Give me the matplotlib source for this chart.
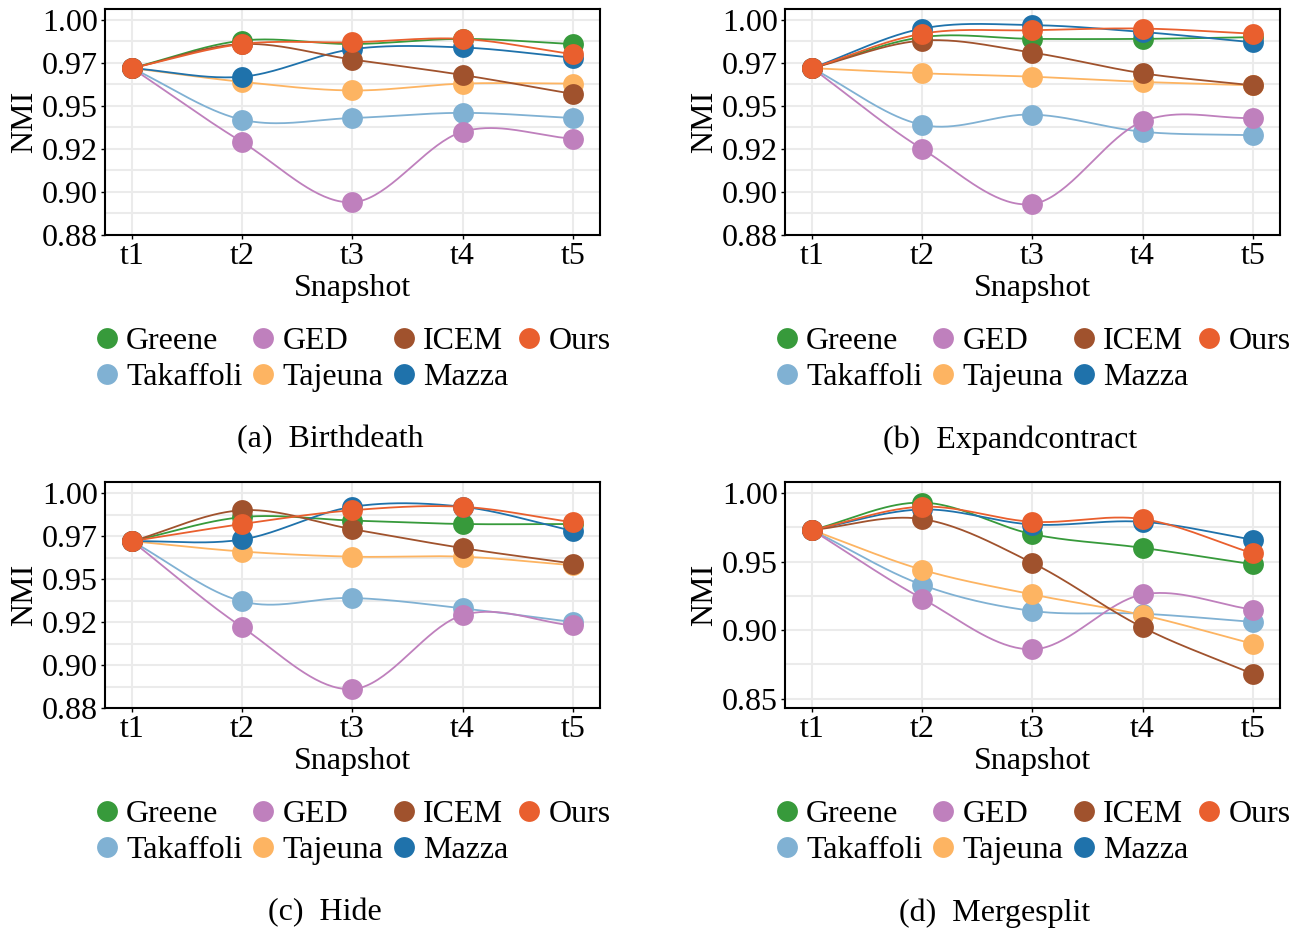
import numpy as np
import matplotlib
matplotlib.use("Agg")
import matplotlib.pyplot as plt

plt.rcParams['font.family'] = ['Liberation Serif', 'DejaVu Serif']
plt.rcParams['font.size'] = 23

snapshots = ["t1", "t2", "t3", "t4", "t5"]
methods = ["Greene", "Takaffoli", "GED", "Tajeuna", "Mazza", "ICEM", "Ours"]
colors = {
    "Greene": "#379a3b",
    "GED": "#bf80bd",
    "ICEM": "#a0522d",
    "Ours": "#e95f2e",
    "Takaffoli": "#80b1d3",
    "Tajeuna": "#fdb462",
    "Mazza": "#1f72ab",
}
legend_order = ["Greene", "Takaffoli", "GED", "Tajeuna", "ICEM", "Mazza", "Ours"]

# NMI values per dataset
birthdeath = {
    "Greene":    [0.972, 0.988, 0.986, 0.989, 0.986],
    "GED":       [0.972, 0.929, 0.894, 0.935, 0.931],
    "ICEM":      [0.972, 0.986, 0.977, 0.968, 0.957],
    "Ours":      [0.972, 0.986, 0.987, 0.989, 0.980],
    "Takaffoli": [0.972, 0.942, 0.943, 0.946, 0.943],
    "Tajeuna":   [0.972, 0.964, 0.959, 0.963, 0.963],
    "Mazza":     [0.972, 0.967, 0.983, 0.984, 0.978],
}
expandcontract = {
    "Greene":    [0.972, 0.990, 0.989, 0.989, 0.990],
    "GED":       [0.972, 0.925, 0.893, 0.941, 0.943],
    "ICEM":      [0.972, 0.988, 0.981, 0.969, 0.962],
    "Ours":      [0.972, 0.992, 0.994, 0.995, 0.992],
    "Takaffoli": [0.972, 0.939, 0.945, 0.935, 0.933],
    "Tajeuna":   [0.972, 0.969, 0.967, 0.964, 0.962],
    "Mazza":     [0.972, 0.995, 0.997, 0.993, 0.987],
}
hide = {
    "Greene":    [0.972, 0.986, 0.984, 0.982, 0.982],
    "GED":       [0.972, 0.922, 0.886, 0.929, 0.923],
    "ICEM":      [0.972, 0.990, 0.979, 0.968, 0.959],
    "Ours":      [0.972, 0.982, 0.990, 0.992, 0.983],
    "Takaffoli": [0.972, 0.937, 0.939, 0.933, 0.925],
    "Tajeuna":   [0.972, 0.966, 0.963, 0.963, 0.958],
    "Mazza":     [0.972, 0.973, 0.992, 0.992, 0.978],
}
mergesplit = {
    "Greene":    [0.973, 0.993, 0.970, 0.960, 0.948],
    "GED":       [0.973, 0.923, 0.886, 0.926, 0.915],
    "ICEM":      [0.973, 0.981, 0.949, 0.902, 0.868],
    "Ours":      [0.973, 0.990, 0.979, 0.981, 0.956],
    "Takaffoli": [0.973, 0.933, 0.914, 0.912, 0.906],
    "Tajeuna":   [0.973, 0.944, 0.926, 0.911, 0.890],
    "Mazza":     [0.973, 0.988, 0.977, 0.979, 0.966],
}

ticks_small = [0.875, 0.9, 0.925, 0.95, 0.975, 1.0]
ticklabels_small = ["0.88", "0.90", "0.92", "0.95", "0.97", "1.00"]
ticks_large = [0.85, 0.9, 0.95, 1.0]
ticklabels_large = ["0.85", "0.90", "0.95", "1.00"]

panels = [
    (birthdeath, "(a)  Birthdeath", ticks_small, ticklabels_small, (0.875, 1.0064)),
    (expandcontract, "(b)  Expandcontract", ticks_small, ticklabels_small, (0.875, 1.0064)),
    (hide, "(c)  Hide", ticks_small, ticklabels_small, (0.875, 1.0064)),
    (mergesplit, "(d)  Mergesplit", ticks_large, ticklabels_large, (0.8432, 1.008)),
]


def smooth(y, n=40):
    # Catmull-Rom style cubic Hermite curve through equally spaced points
    y = np.asarray(y, dtype=float)
    k = len(y)
    m = np.gradient(y)
    xs, ys = [], []
    for i in range(k - 1):
        t = np.linspace(0, 1, n)
        h00 = 2 * t**3 - 3 * t**2 + 1
        h10 = t**3 - 2 * t**2 + t
        h01 = -2 * t**3 + 3 * t**2
        h11 = t**3 - t**2
        xs.append(i + 1 + t)
        ys.append(h00 * y[i] + h10 * m[i] + h01 * y[i + 1] + h11 * m[i + 1])
    return np.concatenate(xs), np.concatenate(ys)


fig = plt.figure(figsize=(12.99, 9.32), dpi=100)
positions = [
    [0.0808, 0.7479, 0.381, 0.2425],
    [0.6043, 0.7479, 0.381, 0.2425],
    [0.0808, 0.2403, 0.381, 0.2425],
    [0.6043, 0.2403, 0.381, 0.2425],
]
caption_xy = [(330, 440), (1010, 440), (325, 913), (995, 913)]
x = np.arange(1, len(snapshots) + 1)

for (data, caption, ticks, ticklabels, ylim), pos, cxy in zip(panels, positions, caption_xy):
    ax = fig.add_axes(pos)
    handles = {}
    for m in methods:
        xs, ys = smooth(data[m])
        ax.plot(xs, ys, color=colors[m], lw=1.3, zorder=3)
        h, = ax.plot(x, data[m], 'o', color=colors[m], ms=15, mec='none', zorder=4, label=m)
        handles[m] = h
    ax.set_xlim(0.755, 5.245)
    ax.set_ylim(*ylim)
    ax.set_xticks(x)
    ax.set_xticklabels(snapshots)
    ax.set_yticks(ticks)
    ax.set_yticklabels(ticklabels)
    step = ticks[1] - ticks[0]
    ax.set_yticks([t + step / 2 for t in ticks[:-1]], minor=True)
    ax.grid(True, which='both', color='#ebebeb', lw=1.5, zorder=0)
    ax.tick_params(which='minor', length=0)
    ax.tick_params(which='major', length=3, width=1, pad=2)
    for s in ax.spines.values():
        s.set_linewidth(1.5)
    ax.set_xlabel("Snapshot", labelpad=2)
    ax.set_ylabel("NMI", labelpad=2)
    ax.legend([handles[m] for m in legend_order], legend_order, ncol=4, frameon=False,
              loc='upper center', bbox_to_anchor=(0.5, -0.335), handlelength=0.8,
              handletextpad=0.2, columnspacing=0.25, labelspacing=0.2, borderpad=0)
    fig.text(cxy[0] / 1299, 1 - cxy[1] / 932, caption, ha='center', va='center')

fig.savefig("out.png", dpi=100)
